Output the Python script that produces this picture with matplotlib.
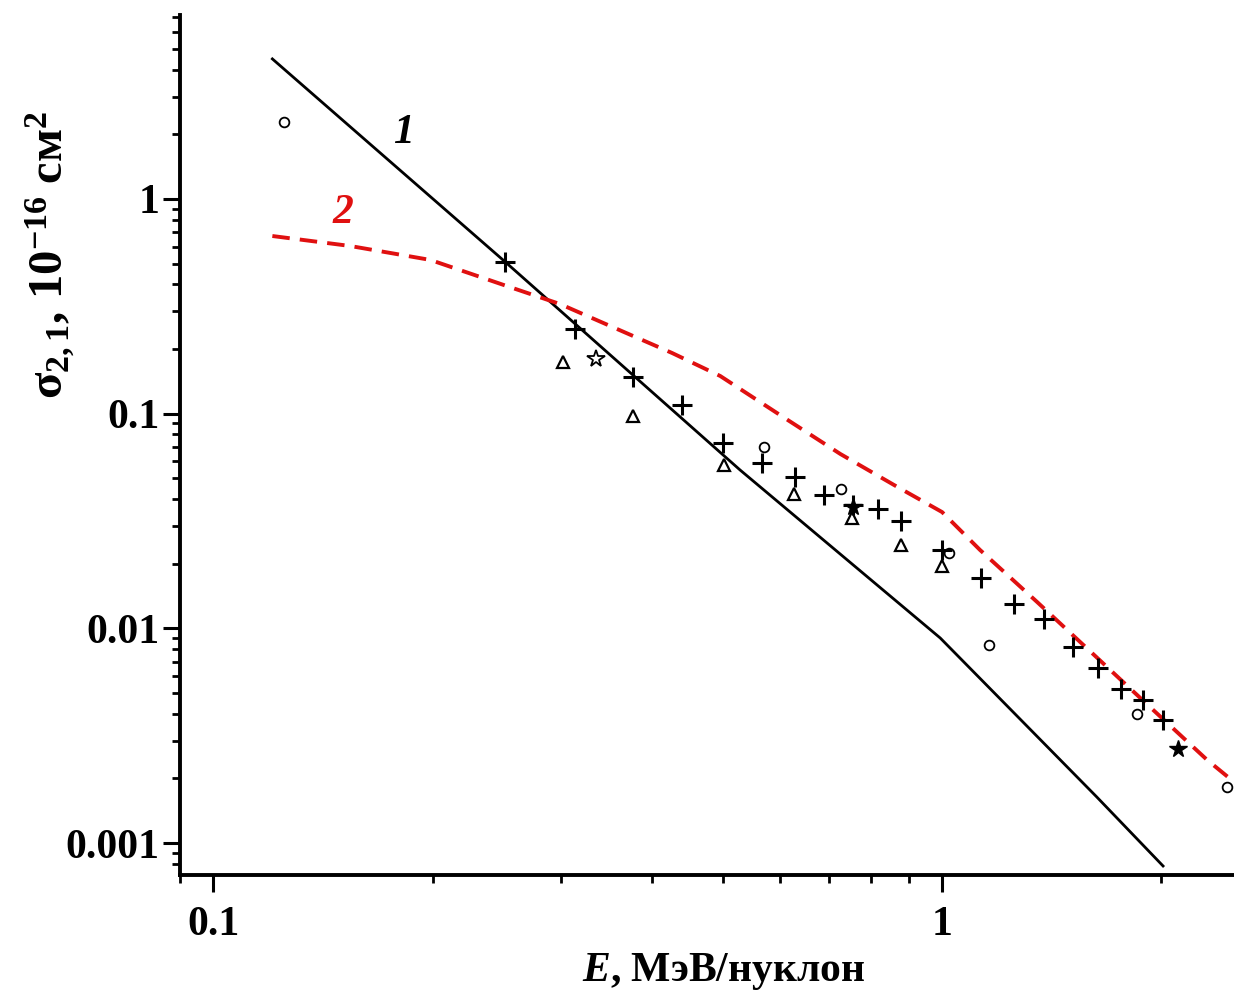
import numpy as np
import matplotlib
matplotlib.use("Agg")
import matplotlib.pyplot as plt
from matplotlib.ticker import LogLocator, FixedLocator, FixedFormatter, NullFormatter

plt.rcParams['font.family'] = ['Liberation Serif', 'DejaVu Serif']
plt.rcParams['font.weight'] = 'bold'
plt.rcParams['mathtext.fontset'] = 'custom'
plt.rcParams['mathtext.rm'] = 'Liberation Serif:bold'
plt.rcParams['mathtext.it'] = 'Liberation Serif:bold:italic'
plt.rcParams['mathtext.bf'] = 'Liberation Serif:bold'

# curve 1 (solid black)
e_line1 = [0.1205, 0.2515, 0.528, 0.994, 1.63, 2.01]
s_line1 = [4.49, 0.509, 0.0547, 0.00902, 0.00164, 0.000782]

# curve 2 (red dashed)
e_line2 = [0.1205, 0.154, 0.1985, 0.250, 0.299, 0.358, 0.426, 0.496, 0.605,
           0.725, 0.868, 1.0, 1.127, 1.35, 1.611, 1.929, 2.31, 2.515]
s_line2 = [0.672, 0.604, 0.520, 0.398, 0.324, 0.248, 0.1917, 0.1498, 0.0965,
           0.0649, 0.0456, 0.0348, 0.0232, 0.01327, 0.0076, 0.0043, 0.00244, 0.001926]

# experimental points
e_plus = [0.2515, 0.314, 0.377, 0.440, 0.5007, 0.566, 0.628, 0.689, 0.755, 0.817,
          0.879, 1.0, 1.131, 1.255, 1.38, 1.513, 1.637, 1.76, 1.887, 2.01]
s_plus = [0.509, 0.248, 0.148, 0.110, 0.0730, 0.0589, 0.0507, 0.0418, 0.0375, 0.036,
          0.0316, 0.0232, 0.0172, 0.0130, 0.0111, 0.00818, 0.00653, 0.00522, 0.00464, 0.00374]

e_tri = [0.302, 0.377, 0.502, 0.627, 0.752, 0.879, 1.0]
s_tri = [0.174, 0.0976, 0.0577, 0.0423, 0.0327, 0.0245, 0.0195]

e_circ = [0.1252, 0.570, 0.727, 1.022, 1.16, 1.852, 2.46]
s_circ = [2.28, 0.070, 0.0446, 0.0225, 0.00837, 0.00399, 0.00183]

e_star = [0.755, 2.107]
s_star = [0.0367, 0.00274]

e_ostar = [0.335]
s_ostar = [0.180]

x_ticks = [0.1, 1]
x_ticklabels = ["0.1", "1"]
y_ticks = [0.001, 0.01, 0.1, 1]
y_ticklabels = ["0.001", "0.01", "0.1", "1"]

fig = plt.figure(figsize=(12.34, 9.94), dpi=100)
ax = fig.add_axes([180/1234, 1-875/994, 1-180/1234, (875-15)/994])

ax.plot(e_line1, s_line1, color='black', lw=2.0, zorder=2)
ax.plot(e_line2, s_line2, color='#e01010', lw=2.8, dashes=(4.5, 2.6), zorder=2)

ax.plot(e_plus, s_plus, ls='none', marker='+', ms=15, mew=2.2, color='black', zorder=3)
ax.plot(e_tri, s_tri, ls='none', marker='^', ms=9, mew=1.6, mfc='none', mec='black', zorder=3)
ax.plot(e_circ, s_circ, ls='none', marker='o', ms=7, mew=1.3, mfc='none', mec='black', zorder=3)
ax.plot(e_star, s_star, ls='none', marker='*', ms=13, color='black', zorder=3)
ax.plot(e_ostar, s_ostar, ls='none', marker='*', ms=13, mew=1.3, mfc='none', mec='black', zorder=3)

ax.text(0.1823, 2.03, "1", fontsize=30, style='italic', weight='bold',
        color='black', ha='center', va='center')
ax.text(0.1508, 0.861, "2", fontsize=30, style='italic', weight='bold',
        color='#e01010', ha='center', va='center')

ax.set_xscale('log')
ax.set_yscale('log')
ax.set_xlim(0.09, 2.515)
ax.set_ylim(7.1e-4, 7.19)

ax.xaxis.set_major_locator(FixedLocator(x_ticks))
ax.xaxis.set_major_formatter(FixedFormatter(x_ticklabels))
ax.xaxis.set_minor_locator(LogLocator(base=10, subs=np.arange(2, 10) / 1.0, numticks=20))
ax.xaxis.set_minor_formatter(NullFormatter())
ax.yaxis.set_major_locator(FixedLocator(y_ticks))
ax.yaxis.set_major_formatter(FixedFormatter(y_ticklabels))
ax.yaxis.set_minor_locator(LogLocator(base=10, subs=np.arange(2, 10) / 1.0, numticks=20))
ax.yaxis.set_minor_formatter(NullFormatter())

for side in ['top', 'right']:
    ax.spines[side].set_visible(False)
for side in ['left', 'bottom']:
    ax.spines[side].set_linewidth(2.8)

ax.tick_params(which='major', direction='out', length=12, width=2.2, labelsize=30)
ax.tick_params(which='minor', direction='out', length=6, width=2.0)
ax.tick_params(axis='y', which='major', pad=3)
ax.tick_params(axis='x', which='major', pad=10)

ax.set_xlabel(r"$\mathit{E}$, МэВ/нуклон", fontsize=30, weight='bold')
ax.xaxis.set_label_coords((724 - 180) / 1054, -0.088)
ax.set_ylabel(r"σ$_{2,1}$, 10$^{-16}$ см$^{2}$", fontsize=35, weight='bold')
ax.yaxis.set_label_coords((50 - 180) / 1054, (875 - 255) / 860)
ax.yaxis.label.set_va('center')

fig.savefig("out.png", dpi=100)
